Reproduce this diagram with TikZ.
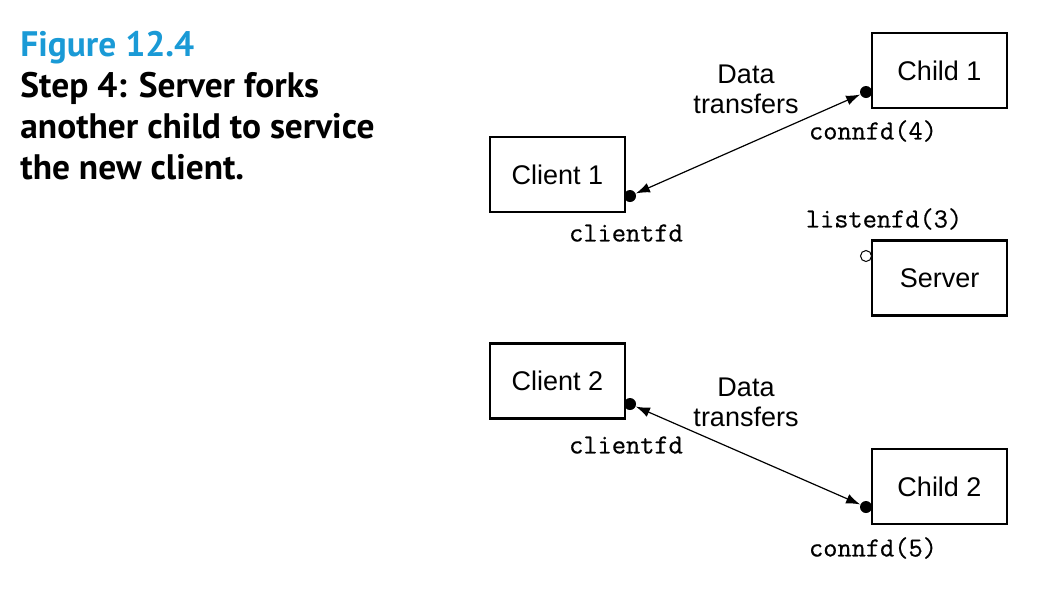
\documentclass[tikz,border=0pt]{standalone}
\usepackage{fontspec}
\setmainfont{Liberation Sans}
\setmonofont[FakeBold=0.6]{Latin Modern Mono}
\newfontfamily\capfont{PT Sans}
\usetikzlibrary{arrows.meta}
\definecolor{figblue}{HTML}{1A9AD6}
\begin{document}
\begin{tikzpicture}[x=0.5pt,y=-0.5pt,
  box/.style={draw,line width=1.4pt,minimum width=67.5pt,minimum height=37.5pt,inner sep=0pt,font=\fontsize{13.5}{16}\selectfont},
  fdot/.style={circle,fill=black,inner sep=0pt,minimum size=6pt},
  odot/.style={circle,draw,fill=white,line width=0.5pt,inner sep=0pt,minimum size=5.5pt},
  fdlabel/.style={font=\ttfamily\fontsize{13.8}{16}\selectfont,inner sep=0pt},
  dtlabel/.style={align=center,font=\fontsize{13.5}{15}\selectfont,inner sep=0pt},
  link/.style={line width=0.6pt,{Latex[length=7pt,width=5pt]}-{Latex[length=7pt,width=5pt]}}]
\useasboundingbox (0,0) rectangle (1042,596);
% caption
\node[anchor=north west,inner sep=0pt,align=left,font=\capfont\bfseries\fontsize{17.7}{20.5}\selectfont] (cap) at (20,31)
  {\textcolor{figblue}{Figure 12.4}\\Step 4: Server forks\\another child to service\\the new client.};
% boxes
\node[box] (child1) at (939.5,70.5) {Child 1};
\node[box] (client1) at (557.5,174.5) {Client 1};
\node[box] (server) at (939.5,278) {Server};
\node[box] (client2) at (557.5,381) {Client 2};
\node[box] (child2) at (939.5,486.5) {Child 2};
% descriptors
\node[fdot] (d1) at (866,92) {};
\node[fdot] (c1) at (630,196) {};
\node[odot] (l) at (866,256) {};
\node[fdot] (c2) at (630,404) {};
\node[fdot] (d2) at (866,507) {};
% labels
\node[fdlabel] (lbd1) at (873,131) {connfd(4)};
\node[fdlabel] (lbc1) at (626,233) {clientfd};
\node[fdlabel] (lbl) at (884,219) {listenfd(3)};
\node[fdlabel] (lbc2) at (626,445) {clientfd};
\node[fdlabel] (lbd2) at (873,548) {connfd(5)};
\node[dtlabel] (dt1) at (746,89) {Data\\transfers};
\node[dtlabel] (dt2) at (746,402) {Data\\transfers};
% connectors
\draw[link] (c1) -- (d1);
\draw[link] (c2) -- (d2);
\end{tikzpicture}
\end{document}
